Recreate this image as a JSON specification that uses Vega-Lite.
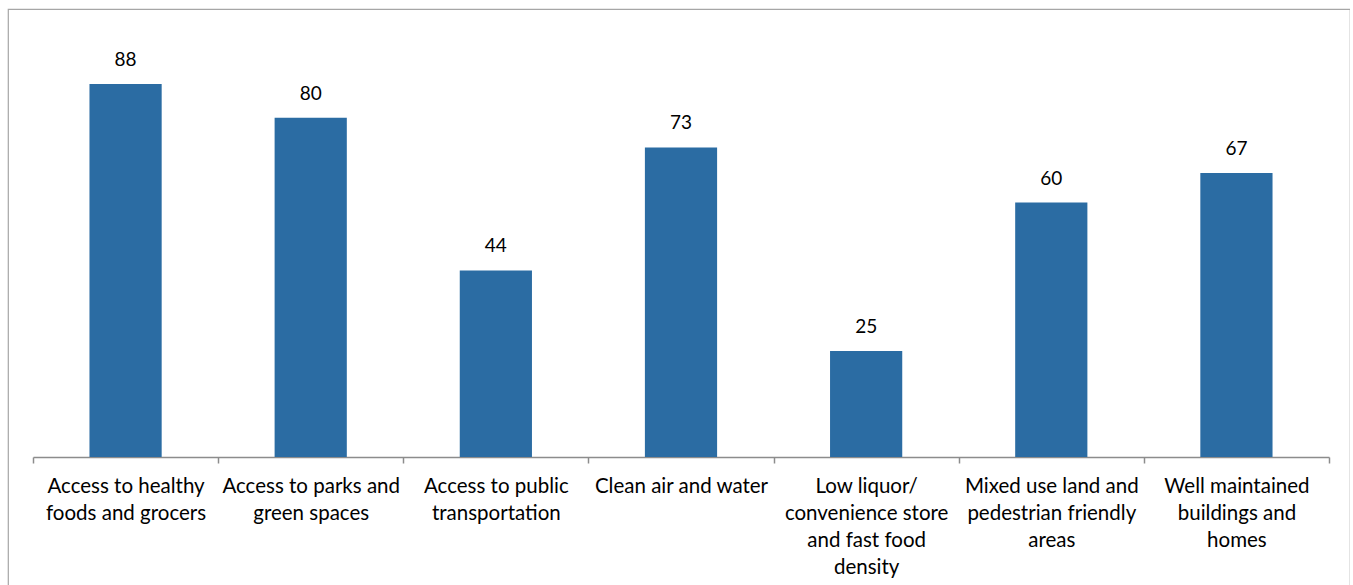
{
  "$schema": "https://vega.github.io/schema/vega-lite/v6.json",
  "autosize": "none",
  "padding": {"left": 8, "top": 9, "right": 0, "bottom": 0},
  "width": 1342,
  "height": 620,
  "background": "white",
  "config": {
    "view": {"stroke": "#a6a6a6", "strokeWidth": 1.2},
    "font": "Lato"
  },
  "data": {
    "values": [
      {"category": "Access to healthy|foods and grocers", "value": 88},
      {"category": "Access to parks and|green spaces", "value": 80},
      {"category": "Access to public|transportation", "value": 44},
      {"category": "Clean air and water", "value": 73},
      {"category": "Low liquor/|convenience store|and fast food|density", "value": 25},
      {"category": "Mixed use land and|pedestrian friendly|areas", "value": 60},
      {"category": "Well maintained|buildings and|homes", "value": 67}
    ]
  },
  "encoding": {
    "x": {
      "field": "category",
      "type": "nominal",
      "sort": null,
      "scale": {"range": [25, 1321], "paddingInner": 0, "paddingOuter": 0},
      "axis": {
        "title": null,
        "labelAngle": 0,
        "offset": -172,
        "domainColor": "#8c8c8c",
        "domainWidth": 1.5,
        "tickColor": "#8c8c8c",
        "tickWidth": 1.5,
        "tickSize": 6,
        "tickBand": "extent",
        "labelExpr": "split(datum.label, '|')",
        "labelFont": "Lato",
        "labelFontSize": 20.5,
        "labelColor": "#000000",
        "labelLineHeight": 27,
        "labelPadding": 13,
        "labelBaseline": "top"
      }
    },
    "y": {
      "field": "value",
      "type": "quantitative",
      "scale": {"domain": [0, 100], "range": [448, 24]},
      "axis": null
    }
  },
  "layer": [
    {"mark": {"type": "bar", "color": "#2b6ca3", "width": {"band": 0.39}}},
    {
      "mark": {"type": "text", "dy": -14, "baseline": "bottom", "fontSize": 19, "font": "Lato", "color": "#000000"},
      "encoding": {"text": {"field": "value", "type": "quantitative"}}
    }
  ]
}
